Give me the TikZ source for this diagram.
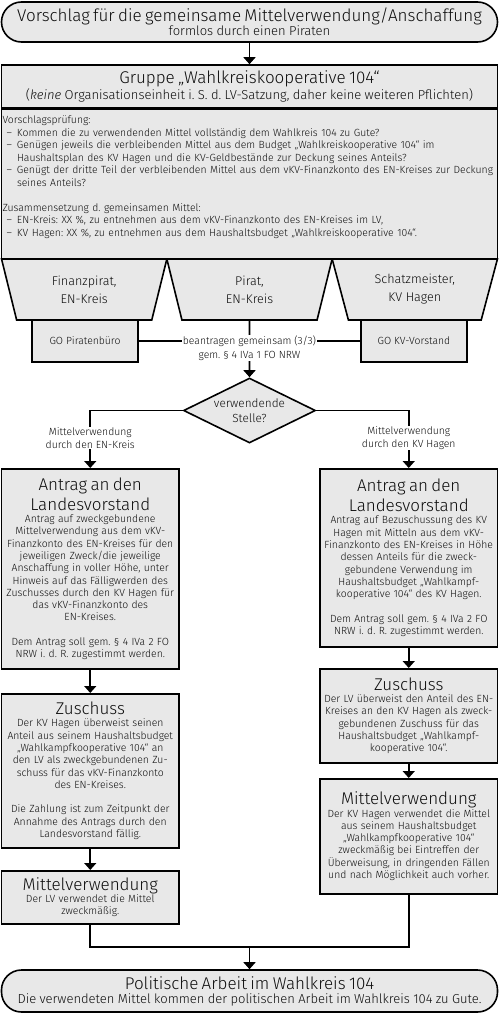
\documentclass[tikz,border=0pt]{standalone}
\usepackage{fontspec}
\setmainfont{Fira Sans Light}[ItalicFont={Fira Sans Light Italic}]
\usetikzlibrary{arrows.meta}
\usetikzlibrary{shapes.geometric}
\frenchspacing
\definecolor{boxgray}{gray}{0.91}
\definecolor{ink}{gray}{0.05}
\newcommand{\hdfont}{\fontsize{17}{20}\selectfont}
\newcommand{\subfont}{\fontsize{13}{14}\selectfont}
\newcommand{\bodyfont}{\fontsize{10.4}{12.5}\selectfont}
\newcommand{\smallfont}{\fontsize{10.4}{12.3}\selectfont}
\newcommand{\lblfont}{\fontsize{10.4}{12.5}\selectfont}
\newcommand{\dashline}[1]{\makebox[14.5pt][l]{\hspace{4pt}–}\mbox{#1}}
\newcommand{\contline}[1]{\hspace*{14.5pt}\mbox{#1}}
\tikzset{
  box/.style={draw=black, fill=boxgray, line width=1.6pt, text=ink, inner sep=2pt},
  termbox/.style={box, rounded corners=20pt, minimum width=496pt, minimum height=40pt,
    text width=490pt, align=center},
  trap/.style={box, trapezium, trapezium angle=64.5, shape border rotate=180,
    trapezium stretches body, minimum width=165.3pt, minimum height=61pt,
    align=center, font=\fontsize{12.6}{18}\selectfont},
  gobox/.style={box, minimum width=106pt, minimum height=42pt, font=\lblfont},
  colbox/.style={box, anchor=north, text width=177pt, inner xsep=0.25pt, align=center},
  lbl/.style={fill=white, text=ink, inner sep=1pt, align=center, font=\lblfont},
  flow/.style={line width=1.6pt, -{Triangle[width=12pt,length=7pt]}},
  link/.style={line width=1.6pt},
}

\begin{document}
\begin{tikzpicture}[x=1pt,y=-1pt]
  \useasboundingbox (0,0) rectangle (499,1014);

  % Vorschlag und Gruppe
  \node[termbox] (prop) at (249.5,22) {{\hdfont Vorschlag für die gemeinsame Mittelverwendung/Anschaffung\par}
    {\subfont formlos durch einen Piraten\par}};
  \node[box, minimum width=496pt, minimum height=43pt, text width=492pt, align=center] (grp) at (249.5,86.5)
    {{\hdfont Gruppe „Wahlkreiskooperative 104“\par}
    {\subfont (\textit{keine} Organisationseinheit i. S. d. LV-Satzung, daher keine weiteren Pflichten)\par}};
  \node[box, anchor=north, text width=494pt, inner xsep=1pt, minimum height=151pt, align=left, font=\bodyfont] (chk) at (grp.south)
    {Vorschlagsprüfung:\\
    \dashline{Kommen die zu verwendenden Mittel vollständig dem Wahlkreis 104 zu Gute?}\\
    \dashline{Genügen jeweils die verbleibenden Mittel aus dem Budget „Wahlkreiskooperative 104“ im}\\
    \contline{Haushaltsplan des KV Hagen und die KV-Geldbestände zur Deckung seines Anteils?}\\
    \dashline{Genügt der dritte Teil der verbleibenden Mittel aus dem vKV-Finanzkonto des EN-Kreises zur Deckung}\\
    \contline{seines Anteils?}\\[12.5pt]
    Zusammensetzung d. gemeinsamen Mittel:\\
    \dashline{EN-Kreis: XX \%, zu entnehmen aus dem vKV-Finanzkonto des EN-Kreises im LV,}\\
    \dashline{KV Hagen: XX \%, zu entnehmen aus dem Haushaltsbudget „Wahlkreiskooperative 104“.}
    \par\vspace*{16pt}};

  % Antragsteller
  \node[trap] (tfin) at (84.2,289.5) {Finanzpirat,\\EN-Kreis};
  \node[trap] (tpir) at (249.5,289.5) {Pirat,\\EN-Kreis};
  \node[trap] (tkv) at (414.8,289.5) {Schatzmeister,\\KV Hagen};
  \node[gobox] (gopir) at (85,341) {GO Piratenbüro};
  \node[gobox] (gokv) at (414,341) {GO KV-Vorstand};

  \node[box, diamond, aspect=2, inner sep=0pt, minimum width=132pt, minimum height=65pt,
    align=center, font=\fontsize{11.8}{15}\selectfont] (dia) at (249.5,410.5) {verwendende\\Stelle?};

  \draw[link] (gopir) -- (gokv);
  \draw[flow] (tpir.south) -- (dia.north);
  \node[lbl, font=\fontsize{10.4}{14}\selectfont] (joint) at (249.5,348) {beantragen gemeinsam (3/3)\\gem. § 4 IVa 1 FO NRW};

  % linke Spalte: EN-Kreis
  \node[colbox, minimum height=200pt] (antl) at (90.25,468)
    {{\hdfont Antrag an den\\Landesvorstand\par}
    \smallfont Antrag auf zweckgebundene\\Mittelverwendung aus dem vKV-\\Finanzkonto des EN-Kreises für den\\
    jeweiligen Zweck/die jeweilige\\Anschaffung in voller Höhe, unter\\Hinweis auf das Fälligwerden des\\
    Zuschusses durch den KV Hagen für\\das vKV-Finanzkonto des\\EN-Kreises.\\[12.3pt]
    Dem Antrag soll gem. § 4 IVa 2 FO\\NRW i. d. R. zugestimmt werden.\par};
  \node[colbox, minimum height=154pt] (zusl) at (90.25,693)
    {{\hdfont Zuschuss\par}
    \smallfont Der KV Hagen überweist seinen\\Anteil aus seinem Haushaltsbudget\\„Wahlkampfkooperative 104“ an\\
    den LV als zweckgebundenen Zu-\\schuss für das vKV-Finanzkonto\\des EN-Kreises.\\[12.3pt]
    Die Zahlung ist zum Zeitpunkt der\\Annahme des Antrags durch den\\Landesvorstand fällig.\par};
  \node[colbox, minimum height=53pt] (mitl) at (90.25,870)
    {{\hdfont Mittelverwendung\par}
    \smallfont Der LV verwendet die Mittel\\zweckmäßig.\par};

  % rechte Spalte: KV Hagen
  \node[colbox, minimum height=178pt] (antr) at (408.75,468)
    {{\hdfont Antrag an den\\Landesvorstand\par}
    \smallfont Antrag auf Bezuschussung des KV\\Hagen mit Mitteln aus dem vKV-\\Finanzkonto des EN-Kreises in Höhe\\
    dessen Anteils für die zweck-\\gebundene Verwendung im\\Haushaltsbudget „Wahlkampf-\\
    kooperative 104“ des KV Hagen.\\[12.3pt]
    Dem Antrag soll gem. § 4 IVa 2 FO\\NRW i. d. R. zugestimmt werden.\par};
  \node[colbox, minimum height=94pt] (zusr) at (408.75,668)
    {{\hdfont Zuschuss\par}
    \smallfont Der LV überweist den Anteil des EN-\\Kreises an den KV Hagen als zweck-\\gebundenen Zuschuss für das\\
    Haushaltsbudget „Wahlkampf-\\kooperative 104“.\par};
  \node[colbox, minimum height=115pt] (mitr) at (408.75,778)
    {{\hdfont Mittelverwendung\par}
    \smallfont Der KV Hagen verwendet die Mittel\\aus seinem Haushaltsbudget\\„Wahlkampfkooperative 104“\\
    zweckmäßig bei Eintreffen der\\Überweisung, in dringenden Fällen\\und nach Möglichkeit auch vorher.\par};

  \node[termbox, minimum height=42pt] (pol) at (249.5,991) {{\hdfont Politische Arbeit im Wahlkreis 104\par}
    {\subfont Die verwendeten Mittel kommen der politischen Arbeit im Wahlkreis 104 zu Gute.\par}};

  % Verbindungen
  \draw[flow] (prop) -- (grp);
  \draw[flow] (dia.west) -| (antl.north);
  \draw[flow] (dia.east) -| (antr.north);
  \node[lbl] (useen) at (90.25,438) {Mittelverwendung\\durch den EN-Kreis};
  \node[lbl] (usekv) at (408.75,438) {Mittelverwendung\\durch den KV Hagen};
  \draw[flow] (antl) -- (zusl);
  \draw[flow] (zusl) -- (mitl);
  \draw[flow] (antr) -- (zusr);
  \draw[flow] (zusr) -- (mitr);
  \coordinate (merge) at (249.5,947);
  \draw[link] (mitl.south) |- (merge) -| (mitr.south);
  \draw[flow] (merge) -- (pol);
\end{tikzpicture}
\end{document}
